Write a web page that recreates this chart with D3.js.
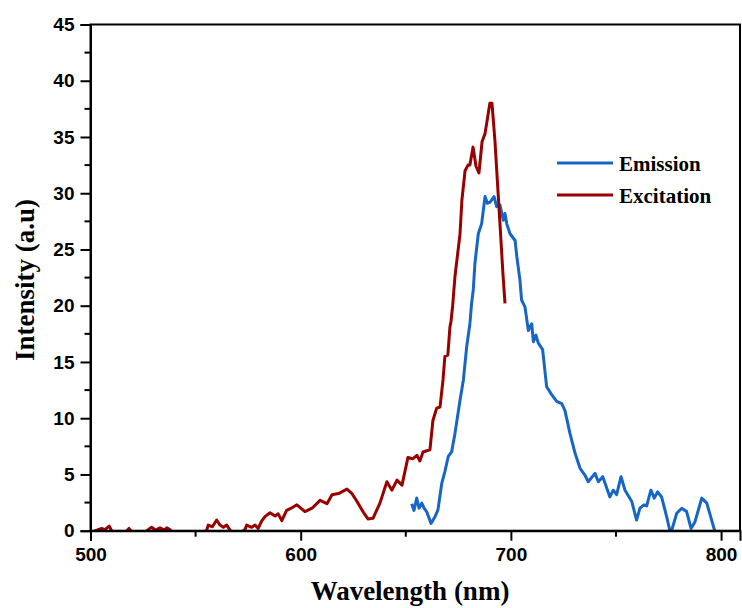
<!DOCTYPE html>
<html>
<head>
<meta charset="utf-8">
<script src="https://cdn.jsdelivr.net/npm/d3@7"></script>
<style>
  body { margin: 0; background: #fff; }
  svg { display: block; }
</style>
</head>
<body>
<script>
// Excitation spectrum (wavelength in nm, intensity in a.u.)
const excitationWl = [502, 503, 505.3, 506.9, 508.9, 510.1, 513, 516, 518.3, 520, 523, 527.5, 529.1, 531, 533.1, 535, 536.3, 537.8,
    540, 545, 550, 555.3, 556, 558, 560, 561.6, 563.2, 564.8, 566.4, 569, 573.5, 574.3, 576.7, 578.3, 579.8, 581.4, 583, 585.4,
    587.8, 589.3, 591, 593.3, 595.5, 598.2, 602, 605.4, 609.2, 612.5, 614.9, 618, 622, 624.4, 626.8, 629.6, 632, 634.4, 637.7,
    641, 643.4, 645.8, 648.2, 651, 653.4, 655.3, 656.7, 658.2, 661.5, 662.9, 664.7, 666.3, 667.7, 668.6, 670, 671, 671.5, 672.3,
    673.4, 675.8, 676.7, 678.2, 679.6, 680.5, 682, 683.4, 684.8, 686.3, 687.7, 690, 691, 692.4, 694.8, 696.2, 697.2]
const excitationInt = [0, 0.05, 0.2, 0.1, 0.4, 0, -0.6, -0.3, 0.2, -0.2, -0.6, 0.1, 0.3, 0.05, 0.25, 0.05, 0.25, 0.1,
    -0.5, -0.8, -0.6, 0.05, 0.5, 0.35, 0.95, 0.5, 0.3, 0.5, 0.05, -0.5, 0.1, 0.5, 0.3, 0.5, 0.2, 0.85, 1.25, 1.6,
    1.3, 1.5, 0.9, 1.8, 2.0, 2.3, 1.7, 2.0, 2.7, 2.4, 3.2, 3.3, 3.7, 3.3, 2.6, 1.7, 1.05, 1.1, 2.45,
    4.35, 3.6, 4.5, 4.05, 6.5, 6.4, 6.7, 6.2, 7.0, 7.2, 9.8, 10.9, 11.0, 13.4, 15.5, 15.6, 18.1, 18.6, 20.0,
    22.6, 26.4, 29.4, 32.0, 32.5, 32.5, 34.1, 32.4, 31.8, 34.6, 35.3, 38.0, 38.0, 34.7, 27.3, 22.9, 20.2]

// Emission spectrum
const emissionWl = [652.8, 653.9, 655.2, 656.3, 657.6, 658.7, 659.9, 662, 663.9, 665.3, 667.1, 668.6, 670.2, 671.8, 673.4,
    675.8, 677.4, 679, 680.5, 681.3, 682.1, 682.9, 684.5, 686.1, 687.7, 688.8, 690.1, 692, 693.2, 694.8, 696.4, 697.2, 698,
    699.6, 702, 702.8, 704.3, 705.1, 706.7, 708.3, 709.9, 710.7, 711.9, 713, 715.1, 717, 719.4, 721.8, 724.2, 725.7, 728.1,
    730.5, 732.9, 735.2, 736.8, 740, 741.6, 743.7, 747.1, 748.7, 750.3, 752.4, 754.3, 757.5, 759.8, 761.4, 763.3, 764.6,
    766.6, 768.2, 769.8, 771.7, 774.1, 776, 778.9, 781.3, 783.6, 785.7, 787.6, 790.8, 793.2, 797.1]
const emissionInt = [2.4, 1.8, 2.9, 2.0, 2.45, 2.0, 1.7, 0.65, 1.25, 1.85, 4.2, 5.25, 6.6, 7.0, 8.65,
    11.6, 13.4, 16.4, 18.4, 20.2, 21.4, 23.8, 26.4, 27.3, 29.7, 29.1, 29.2, 29.7, 28.8, 28.95, 27.6, 28.2, 27.3,
    26.4, 25.8, 24.4, 22.3, 20.5, 19.9, 17.8, 18.4, 16.8, 17.4, 16.7, 16.1, 12.8, 12.1, 11.5, 11.3, 10.7, 8.65,
    6.9, 5.55, 4.95, 4.35, 5.1, 4.35, 4.8, 3.0, 3.6, 3.2, 4.8, 3.6, 2.6, 0.95, 2.0, 2.3, 2.2,
    3.6, 2.9, 3.45, 3.0, 1.25, -0.3, 1.55, 2.0, 1.7, 0.2, 0.8, 2.9, 2.45, -0.1]

const xMajor = [500, 600, 700, 800]
const xMinor = [550, 650, 750]
const yMajor = [0, 5, 10, 15, 20, 25, 30, 35, 40, 45]
const yMinor = [2.5, 7.5, 12.5, 17.5, 22.5, 27.5, 32.5, 37.5, 42.5]
const seriesNames = ['Emission', 'Excitation']
const seriesColors = ['#1766c6', '#990000']

const totalW = 742, totalH = 608
const margin = { top: 24.5, right: 2, bottom: 77.3, left: 90.5 }
const width = totalW - margin.left - margin.right
const height = totalH - margin.top - margin.bottom

const svg = d3.select('body').append('svg')
    .attr('width', totalW)
    .attr('height', totalH)
    .append('g')
        .attr('transform', `translate(${margin.left}, ${margin.top})`)

const xScale = d3.scaleLinear().domain([500, 809]).range([0, width])
const yScale = d3.scaleLinear().domain([0, 45]).range([height, 0])

// clip so values under zero disappear under the axis
svg.append('clipPath').attr('id', 'plot')
    .append('rect').attr('width', width).attr('height', height)

const line = d3.line()
    .x(d => xScale(d[0]))
    .y(d => yScale(d[1]))

const series = [
    d3.zip(emissionWl, emissionInt),
    d3.zip(excitationWl, excitationInt)
]

series.forEach((s, i) => {
    svg.append('path')
        .datum(s)
        .attr('clip-path', 'url(#plot)')
        .style('fill', 'none')
        .style('stroke', seriesColors[i])
        .style('stroke-width', 3)
        .style('stroke-linejoin', 'round')
        .attr('d', line)
})

// frame
svg.append('rect')
    .attr('width', width).attr('height', height)
    .style('fill', 'none').style('stroke', '#000').style('stroke-width', 2)

// axes
const xAxis = svg.append('g')
    .attr('transform', `translate(0, ${height})`)
    .call(d3.axisBottom(xScale).tickValues(xMajor).tickSize(10).tickPadding(7))
xAxis.append('g').selectAll('line').data(xMinor).join('line')
    .attr('x1', d => xScale(d)).attr('x2', d => xScale(d))
    .attr('y1', 0).attr('y2', 6).style('stroke', '#000').style('stroke-width', 2)

const yAxis = svg.append('g')
    .call(d3.axisLeft(yScale).tickValues(yMajor).tickSize(10).tickPadding(6))
yAxis.append('g').selectAll('line').data(yMinor).join('line')
    .attr('y1', d => yScale(d)).attr('y2', d => yScale(d))
    .attr('x1', 0).attr('x2', -6).style('stroke', '#000').style('stroke-width', 2)

svg.selectAll('.domain').style('stroke-width', 2)
svg.selectAll('.tick line').style('stroke-width', 2)
svg.selectAll('.tick text')
    .style('font-family', '"Liberation Sans", Arial, sans-serif')
    .style('font-weight', 'bold')
    .style('font-size', '19px')
    .style('fill', '#000')

// axis titles
svg.append('text')
    .attr('x', 410 - margin.left).attr('y', 600 - margin.top)
    .attr('text-anchor', 'middle')
    .style('font-family', '"Liberation Serif", "Times New Roman", serif')
    .style('font-weight', 'bold').style('font-size', '27px')
    .text('Wavelength (nm)')

svg.append('text')
    .attr('transform', `translate(${34 - margin.left}, ${280 - margin.top}) rotate(-90)`)
    .attr('text-anchor', 'middle')
    .style('font-family', '"Liberation Serif", "Times New Roman", serif')
    .style('font-weight', 'bold').style('font-size', '27px')
    .text('Intensity (a.u)')

// legend
const legend = svg.append('g')
    .attr('transform', `translate(${557 - margin.left}, ${163 - margin.top})`)
seriesNames.forEach((name, i) => {
    const g = legend.append('g').attr('transform', `translate(0, ${i * 32})`)
    g.append('line')
        .attr('x1', 0).attr('x2', 56)
        .style('stroke', seriesColors[i]).style('stroke-width', 3)
    g.append('text')
        .attr('x', 62).attr('y', 7.5)
        .style('font-family', '"Liberation Serif", "Times New Roman", serif')
        .style('font-weight', 'bold').style('font-size', '21px')
        .text(name)
})
</script>
</body>
</html>
